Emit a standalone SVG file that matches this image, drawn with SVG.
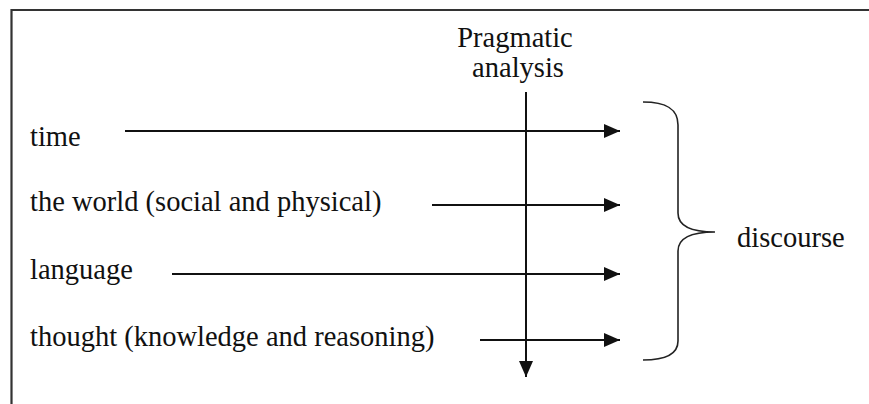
<svg xmlns="http://www.w3.org/2000/svg" width="869" height="404" viewBox="0 0 869 404">
<defs>
<style>
text{font-family:"Liberation Serif","Times New Roman",serif;font-size:28.5px;fill:#111}
.ln{stroke:#111;stroke-width:2;fill:none}
.brace{stroke:#222;stroke-width:1.6;fill:none}
</style>
<marker id="ah" viewBox="0 0 16 14" refX="16" refY="7" markerWidth="16" markerHeight="14" markerUnits="userSpaceOnUse" orient="auto">
<path d="M0,0 L16,7 L0,14 Z" fill="#111"/>
</marker>
</defs>
<rect x="0" y="0" width="869" height="404" fill="#fff"/>
<path d="M11.5,420 V10 H880" stroke="#333" stroke-width="2.2" fill="none"/>
<g id="pragmatic">
<text x="515" y="47" text-anchor="middle">Pragmatic</text>
<text x="518" y="77" text-anchor="middle">analysis</text>
</g>
<g id="time"><text x="30" y="146">time</text></g>
<g id="world"><text x="30" y="211">the world (social and physical)</text></g>
<g id="language"><text x="30" y="279">language</text></g>
<g id="thought"><text x="30" y="346">thought (knowledge and reasoning)</text></g>
<g id="discourse"><text x="737" y="247">discourse</text></g>
<g id="brace">
<path class="brace" d="M643,102 C665,102 678,108 678,125 V213 C678,225 690,232 715,232 C690,232 678,239 678,251 V341 C678,355 665,360 643,360"/>
</g>
<g id="connectors">
<line class="ln" x1="526" y1="92" x2="526" y2="377" marker-end="url(#ah)"/>
<line class="ln" x1="125" y1="131" x2="620" y2="131" marker-end="url(#ah)"/>
<line class="ln" x1="432" y1="205" x2="620" y2="205" marker-end="url(#ah)"/>
<line class="ln" x1="172" y1="274" x2="620" y2="274" marker-end="url(#ah)"/>
<line class="ln" x1="480" y1="340" x2="620" y2="340" marker-end="url(#ah)"/>
</g>
</svg>
